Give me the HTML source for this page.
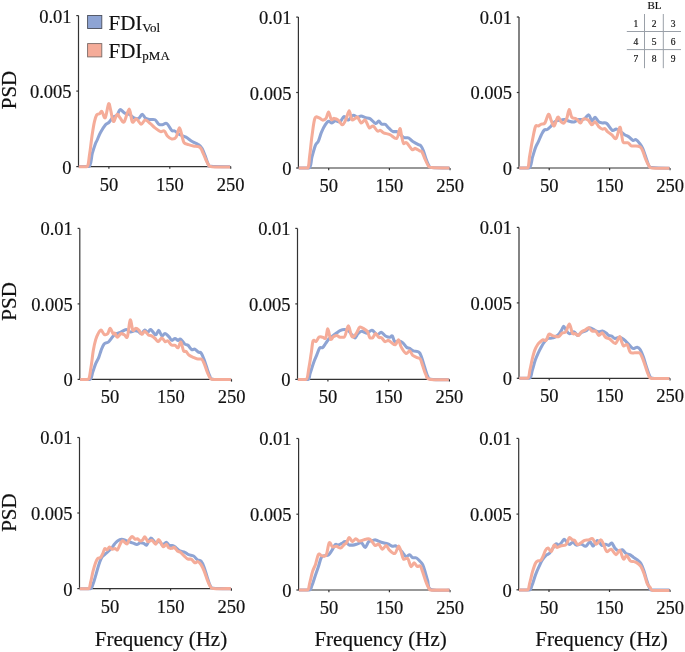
<!DOCTYPE html>
<html><head><meta charset="utf-8"><style>
html,body{margin:0;padding:0;background:#fff;}
svg{display:block;will-change:transform;}
text{font-family:"Liberation Serif",serif;fill:#111;stroke:#111;stroke-width:0.18px;}
</style></head><body>
<svg width="685" height="652" viewBox="0 0 685 652">
<rect width="685" height="652" fill="#fff"/>

<path d="M78.5,15.6V166.6H230.7" fill="none" stroke="#333" stroke-width="1.2"/>
<path d="M76.3,15.6H78.5" stroke="#333" stroke-width="1.2"/>
<path d="M76.3,91.1H78.5" stroke="#333" stroke-width="1.2"/>
<path d="M76.3,166.6H78.5" stroke="#333" stroke-width="1.2"/>
<path d="M108.9,166.6V168.8" stroke="#333" stroke-width="1.2"/>
<path d="M169.8,166.6V168.8" stroke="#333" stroke-width="1.2"/>
<path d="M230.7,166.6V168.8" stroke="#333" stroke-width="1.2"/>
<path d="M78.8,166.5C80.5,166.5 86.8,166.5 89.0,166.5C91.2,166.5 91.2,157.2 92.3,153.4C93.4,149.6 94.7,145.7 95.5,143.5C96.3,141.3 96.4,141.8 97.2,140.0C98.0,138.2 99.1,135.0 100.5,132.5C101.9,130.0 104.1,126.5 105.5,124.8C106.9,123.1 107.8,123.7 109.0,122.4C110.2,121.1 111.7,118.4 113.0,117.2C114.3,116.0 115.9,116.7 117.1,115.4C118.3,114.1 118.7,110.0 120.0,109.6C121.3,109.2 123.1,112.3 124.7,113.1C126.3,113.9 127.9,113.5 129.4,114.3C131.0,115.1 132.4,117.1 134.0,117.8C135.6,118.5 137.3,119.0 138.7,118.4C140.1,117.8 141.0,114.3 142.2,114.3C143.4,114.3 144.3,117.5 145.7,118.4C147.1,119.3 148.8,119.3 150.4,119.5C152.0,119.7 153.6,119.0 155.0,119.8C156.4,120.6 157.5,123.4 158.7,124.2C159.9,125.0 161.1,124.9 162.4,124.8C163.8,124.7 165.2,122.6 166.8,123.5C168.4,124.4 170.4,129.2 171.7,130.4C173.0,131.7 173.5,130.3 174.8,131.0C176.2,131.7 177.9,133.7 179.8,134.7C181.7,135.7 183.9,136.1 186.0,137.2C188.1,138.3 190.1,140.3 192.2,141.5C194.3,142.7 196.8,143.4 198.4,144.6C200.1,145.8 201.0,146.5 202.1,148.4C203.2,150.3 204.2,153.1 205.2,155.8C206.2,158.5 207.4,162.8 208.3,164.5C209.2,166.2 207.2,165.9 210.8,166.3C214.4,166.7 226.9,166.7 230.1,166.7" fill="none" stroke="#8ea4d4" stroke-width="3.05" stroke-linejoin="round" stroke-linecap="butt"/>
<path d="M78.8,166.7C80.1,166.7 85.0,166.7 86.8,166.7C88.6,166.7 88.8,158.5 89.7,153.4C90.6,148.3 91.2,141.2 92.0,135.9C92.8,130.7 93.6,125.4 94.4,121.9C95.2,118.4 95.8,116.3 96.7,114.9C97.6,113.5 98.7,114.3 99.6,113.7C100.5,113.1 101.0,110.7 101.9,111.4C102.8,112.1 104.1,119.1 105.2,117.8C106.3,116.5 107.7,105.1 108.6,103.8C109.5,102.5 109.9,107.2 110.7,110.2C111.5,113.2 112.3,120.8 113.4,121.5C114.5,122.2 116.0,114.9 117.1,114.3C118.2,113.7 118.8,116.5 120.0,117.8C121.2,119.1 122.6,123.4 124.1,121.9C125.6,120.4 127.8,109.0 129.2,109.0C130.6,109.0 131.1,120.2 132.3,121.9C133.5,123.6 134.9,118.5 136.4,118.9C137.9,119.3 139.6,124.0 141.1,124.2C142.6,124.4 143.6,120.2 145.2,120.1C146.8,120.0 148.8,122.3 150.4,123.6C152.0,124.9 153.3,126.6 155.0,127.9C156.7,129.2 158.9,131.1 160.5,131.6C162.1,132.1 163.2,130.3 164.3,131.0C165.5,131.7 166.2,134.7 167.4,136.0C168.6,137.3 170.2,138.8 171.7,139.0C173.1,139.2 174.8,139.0 176.1,137.2C177.4,135.3 178.5,127.9 179.5,127.9C180.5,127.9 181.5,134.7 182.3,137.2C183.1,139.7 183.1,141.6 184.1,142.8C185.1,144.0 186.9,144.1 188.5,144.6C190.1,145.1 191.6,145.5 193.4,145.9C195.2,146.3 198.2,146.3 199.6,147.1C201.0,147.9 201.1,148.7 202.1,150.8C203.1,152.9 204.7,157.1 205.8,159.5C206.9,161.9 207.9,164.3 208.9,165.5C209.9,166.7 208.5,166.4 212.0,166.7C215.5,166.9 227.1,167.0 230.1,167.0" fill="none" stroke="#f5ac99" stroke-width="3.05" stroke-linejoin="round" stroke-linecap="butt"/>
<text x="71.5" y="22.5" font-size="18.5" text-anchor="end">0.01</text>
<text x="71.5" y="98.0" font-size="18.5" text-anchor="end">0.005</text>
<text x="71.5" y="173.5" font-size="18.5" text-anchor="end">0</text>
<text x="108.9" y="190.6" font-size="18.5" text-anchor="middle">50</text>
<text x="169.8" y="190.6" font-size="18.5" text-anchor="middle">150</text>
<text x="230.7" y="190.6" font-size="18.5" text-anchor="middle">250</text>
<path d="M298.4,17.1V168.0H450.0" fill="none" stroke="#333" stroke-width="1.2"/>
<path d="M296.2,17.1H298.4" stroke="#333" stroke-width="1.2"/>
<path d="M296.2,92.5H298.4" stroke="#333" stroke-width="1.2"/>
<path d="M296.2,168.0H298.4" stroke="#333" stroke-width="1.2"/>
<path d="M328.7,168.0V170.2" stroke="#333" stroke-width="1.2"/>
<path d="M389.4,168.0V170.2" stroke="#333" stroke-width="1.2"/>
<path d="M450.0,168.0V170.2" stroke="#333" stroke-width="1.2"/>
<path d="M298.7,168.0C300.4,168.0 306.9,168.0 309.1,168.0C311.3,168.0 310.9,160.7 312.0,156.9C313.1,153.1 314.4,147.8 315.5,145.2C316.6,142.6 317.4,143.2 318.4,141.1C319.4,139.0 320.3,135.0 321.4,132.4C322.5,129.8 323.7,127.2 324.9,125.4C326.1,123.6 327.2,121.7 328.4,121.3C329.6,120.9 330.7,123.1 331.9,123.0C333.1,122.9 334.0,120.9 335.4,120.7C336.8,120.5 338.6,122.6 340.0,121.9C341.4,121.2 342.7,116.9 344.1,116.6C345.5,116.3 346.7,120.3 348.2,120.1C349.7,119.9 351.3,115.9 352.9,115.4C354.5,114.9 356.2,117.1 357.6,117.2C359.0,117.3 359.8,115.9 361.1,116.0C362.5,116.1 364.2,117.4 365.7,117.8C367.2,118.2 368.4,117.6 370.0,118.6C371.6,119.5 374.2,123.1 375.6,123.5C377.1,123.9 377.7,121.0 378.7,121.1C379.7,121.2 380.8,124.2 381.8,124.2C382.8,124.2 383.8,124.2 384.9,124.2C386.0,124.2 387.2,126.7 388.6,127.9C390.0,129.1 391.6,131.6 393.0,131.6C394.4,131.6 395.6,131.6 396.7,131.6C397.8,131.6 398.5,133.1 399.8,134.1C401.1,135.1 403.4,137.8 404.7,137.8C406.0,137.8 406.4,137.8 407.8,137.8C409.2,137.8 411.0,140.4 412.8,141.5C414.6,142.6 417.0,143.9 418.4,144.6C419.8,145.3 420.1,144.9 420.9,145.9C421.7,146.9 422.6,148.7 423.4,150.8C424.2,152.9 424.9,155.8 425.8,158.3C426.7,160.8 427.9,164.1 428.9,165.7C429.9,167.2 428.6,167.2 432.0,167.6C435.4,168.0 446.5,168.0 449.4,168.0" fill="none" stroke="#8ea4d4" stroke-width="3.05" stroke-linejoin="round" stroke-linecap="butt"/>
<path d="M298.7,168.0C300.1,168.0 305.5,168.0 307.3,168.0C309.1,168.0 308.9,161.0 309.7,155.7C310.5,150.3 311.1,142.1 312.0,135.9C312.9,129.7 313.7,121.4 314.9,118.4C316.1,115.4 317.7,117.5 319.0,117.8C320.3,118.1 321.3,120.0 322.5,120.1C323.7,120.2 325.0,119.8 326.0,118.4C327.0,117.0 327.7,111.7 328.6,111.9C329.5,112.1 330.4,118.4 331.3,119.5C332.2,120.6 333.0,118.3 334.2,118.4C335.4,118.5 336.9,119.0 338.3,120.1C339.7,121.2 341.1,124.9 342.4,124.8C343.7,124.7 344.8,121.8 345.9,119.5C347.0,117.2 348.2,110.8 349.2,110.8C350.2,110.8 350.7,118.2 351.7,119.5C352.7,120.8 354.2,118.8 355.2,118.4C356.2,118.0 356.6,116.4 357.6,117.2C358.6,118.0 359.8,122.5 361.1,123.0C362.4,123.5 363.9,119.3 365.2,120.1C366.5,120.9 367.9,126.7 369.2,127.7C370.5,128.7 371.7,125.5 373.1,126.0C374.5,126.5 376.2,130.3 377.4,131.0C378.6,131.7 379.5,130.1 380.5,130.4C381.5,130.7 382.0,132.1 383.6,132.8C385.2,133.5 387.7,133.8 389.9,134.7C392.1,135.6 395.0,139.4 396.7,138.4C398.4,137.4 399.0,128.9 399.8,128.5C400.6,128.1 401.0,133.5 401.6,136.0C402.2,138.5 402.7,142.3 403.5,143.4C404.3,144.5 405.2,141.8 406.6,142.8C408.1,143.8 410.8,148.7 412.2,149.6C413.6,150.5 414.1,148.2 415.3,148.4C416.5,148.6 418.5,150.2 419.6,150.8C420.7,151.4 421.2,150.7 422.1,152.1C423.0,153.5 424.2,157.2 425.2,159.5C426.2,161.8 427.3,164.3 428.3,165.7C429.3,167.0 427.9,167.2 431.4,167.6C434.9,168.0 446.4,168.0 449.4,168.0" fill="none" stroke="#f5ac99" stroke-width="3.05" stroke-linejoin="round" stroke-linecap="butt"/>
<text x="291.4" y="24.0" font-size="18.5" text-anchor="end">0.01</text>
<text x="291.4" y="99.5" font-size="18.5" text-anchor="end">0.005</text>
<text x="291.4" y="174.9" font-size="18.5" text-anchor="end">0</text>
<text x="328.7" y="192.0" font-size="18.5" text-anchor="middle">50</text>
<text x="389.4" y="192.0" font-size="18.5" text-anchor="middle">150</text>
<text x="450.0" y="192.0" font-size="18.5" text-anchor="middle">250</text>
<path d="M519.0,17.0V168.0H670.0" fill="none" stroke="#333" stroke-width="1.2"/>
<path d="M516.8,17.0H519.0" stroke="#333" stroke-width="1.2"/>
<path d="M516.8,92.5H519.0" stroke="#333" stroke-width="1.2"/>
<path d="M516.8,168.0H519.0" stroke="#333" stroke-width="1.2"/>
<path d="M549.2,168.0V170.2" stroke="#333" stroke-width="1.2"/>
<path d="M609.6,168.0V170.2" stroke="#333" stroke-width="1.2"/>
<path d="M670.0,168.0V170.2" stroke="#333" stroke-width="1.2"/>
<path d="M519.3,168.0C520.9,168.0 526.9,168.0 529.1,168.0C531.3,168.0 531.5,160.3 532.6,156.9C533.7,153.5 534.5,150.1 535.5,147.6C536.5,145.1 537.4,143.8 538.4,141.7C539.4,139.5 540.4,136.6 541.4,134.7C542.4,132.8 543.3,130.9 544.3,130.0C545.3,129.1 546.1,130.1 547.2,129.5C548.3,128.9 549.3,127.9 550.7,126.5C552.1,125.1 553.6,122.4 555.4,121.3C557.1,120.2 559.7,120.4 561.2,120.1C562.8,119.8 563.3,119.3 564.7,119.5C566.1,119.7 567.8,120.9 569.4,121.3C571.0,121.7 572.5,122.2 574.1,121.9C575.7,121.6 577.2,119.5 578.7,119.5C580.2,119.5 581.7,119.5 583.4,119.5C585.1,119.5 587.3,114.6 588.7,114.9C590.1,115.2 590.9,120.7 591.9,121.1C592.9,121.5 593.9,117.2 595.0,117.3C596.1,117.4 597.5,120.8 598.7,121.7C599.9,122.6 601.0,122.6 602.4,122.9C603.8,123.2 605.1,122.2 606.8,123.5C608.4,124.8 610.8,129.5 612.3,130.4C613.8,131.3 614.9,129.0 616.1,129.1C617.4,129.2 618.4,130.1 619.8,131.0C621.2,131.9 623.2,133.8 624.7,134.7C626.2,135.6 627.1,135.7 628.5,136.6C629.9,137.5 631.6,139.8 632.8,140.3C634.0,140.8 634.8,139.2 635.9,139.7C637.0,140.2 638.5,141.9 639.6,143.4C640.7,144.9 641.7,146.1 642.7,148.4C643.7,150.7 644.8,154.1 645.8,157.0C646.8,159.9 647.9,163.9 648.9,165.7C649.9,167.5 648.6,167.2 652.0,167.6C655.4,168.0 666.5,168.2 669.4,168.2" fill="none" stroke="#8ea4d4" stroke-width="3.05" stroke-linejoin="round" stroke-linecap="butt"/>
<path d="M519.3,168.0C520.6,168.0 525.6,168.0 527.3,168.0C529.0,168.0 528.8,160.5 529.7,155.7C530.6,150.9 531.6,144.3 532.6,139.4C533.6,134.5 534.5,128.7 535.5,126.5C536.5,124.3 537.4,126.4 538.4,126.0C539.4,125.6 540.3,124.7 541.4,124.2C542.5,123.7 543.7,124.7 544.9,123.0C546.1,121.3 547.5,114.7 548.6,114.3C549.7,113.9 550.4,118.8 551.3,120.7C552.2,122.7 553.1,126.6 554.2,126.0C555.3,125.4 556.5,117.9 557.7,117.2C558.9,116.5 560.1,120.9 561.2,121.9C562.3,122.9 563.2,123.6 564.1,123.0C565.0,122.4 565.9,120.6 566.8,118.4C567.6,116.2 568.4,109.8 569.2,109.6C570.0,109.4 570.7,115.7 571.7,117.2C572.7,118.7 574.2,117.9 575.2,118.4C576.2,118.9 576.7,119.3 577.6,120.1C578.5,120.9 579.5,123.2 580.5,123.0C581.5,122.8 582.1,119.4 583.4,118.9C584.7,118.4 586.7,119.1 588.1,120.1C589.5,121.1 590.8,124.5 591.9,124.8C593.0,125.1 593.9,121.4 595.0,121.7C596.1,122.0 597.5,125.4 598.7,126.6C599.9,127.8 601.4,128.8 602.4,129.1C603.4,129.4 604.1,128.1 604.9,128.5C605.7,128.9 606.3,130.6 607.4,131.6C608.5,132.6 610.2,133.6 611.7,134.7C613.2,135.8 614.8,139.6 616.1,138.4C617.5,137.2 618.9,127.9 619.8,127.3C620.7,126.7 621.0,132.1 621.6,134.7C622.2,137.3 622.5,142.8 623.5,142.8C624.5,142.8 626.4,142.8 627.8,142.8C629.1,142.8 630.2,145.9 631.6,145.9C633.0,145.9 634.5,145.9 635.9,145.9C637.3,145.9 639.2,146.3 640.3,147.1C641.4,147.9 641.8,148.7 642.7,150.8C643.6,152.9 644.8,157.0 645.8,159.5C646.8,162.0 647.9,164.3 648.9,165.7C649.9,167.1 648.6,167.6 652.0,168.0C655.4,168.4 666.5,168.2 669.4,168.2" fill="none" stroke="#f5ac99" stroke-width="3.05" stroke-linejoin="round" stroke-linecap="butt"/>
<text x="512.0" y="23.9" font-size="18.5" text-anchor="end">0.01</text>
<text x="512.0" y="99.4" font-size="18.5" text-anchor="end">0.005</text>
<text x="512.0" y="174.9" font-size="18.5" text-anchor="end">0</text>
<text x="549.2" y="192.0" font-size="18.5" text-anchor="middle">50</text>
<text x="609.6" y="192.0" font-size="18.5" text-anchor="middle">150</text>
<text x="670.0" y="192.0" font-size="18.5" text-anchor="middle">250</text>
<path d="M79.8,228.4V379.4H231.5" fill="none" stroke="#333" stroke-width="1.2"/>
<path d="M77.6,228.4H79.8" stroke="#333" stroke-width="1.2"/>
<path d="M77.6,303.9H79.8" stroke="#333" stroke-width="1.2"/>
<path d="M77.6,379.4H79.8" stroke="#333" stroke-width="1.2"/>
<path d="M110.1,379.4V381.6" stroke="#333" stroke-width="1.2"/>
<path d="M170.8,379.4V381.6" stroke="#333" stroke-width="1.2"/>
<path d="M231.5,379.4V381.6" stroke="#333" stroke-width="1.2"/>
<path d="M80.1,379.4C81.7,379.4 87.7,379.4 89.8,379.4C91.9,379.4 91.8,374.6 92.8,372.0C93.8,369.4 94.7,366.0 95.7,363.6C96.7,361.2 97.8,359.8 98.7,357.6C99.6,355.4 100.2,352.7 101.1,350.4C102.0,348.1 102.9,345.3 104.1,343.9C105.3,342.5 107.1,343.0 108.3,342.1C109.5,341.2 110.2,339.8 111.3,338.5C112.4,337.2 113.4,335.3 114.9,334.3C116.4,333.3 118.4,333.3 120.3,332.5C122.2,331.7 124.5,329.6 126.2,329.5C127.9,329.4 129.0,331.7 130.4,331.9C131.8,332.1 133.3,330.8 134.6,330.7C135.9,330.6 137.1,330.8 138.2,331.3C139.3,331.8 140.1,333.9 141.2,333.7C142.3,333.5 143.7,330.3 144.8,330.1C145.9,329.9 146.8,332.6 147.8,332.5C148.8,332.4 149.4,329.1 150.7,329.5C152.0,329.9 154.3,334.7 155.7,334.8C157.0,334.9 157.8,330.2 158.8,330.4C159.8,330.6 160.9,335.5 161.9,336.0C162.9,336.5 163.8,333.4 165.0,333.5C166.2,333.6 167.7,335.5 168.8,336.6C170.0,337.8 170.9,340.1 171.9,340.4C172.9,340.7 174.0,338.5 175.0,338.5C176.0,338.5 177.2,340.3 178.1,340.4C179.0,340.5 179.4,338.5 180.5,339.1C181.6,339.7 183.7,343.1 184.9,344.1C186.2,345.1 186.9,344.4 188.0,345.3C189.1,346.2 190.6,349.1 191.7,349.7C192.8,350.3 193.7,348.7 194.8,349.1C195.9,349.5 197.5,351.6 198.5,352.2C199.5,352.8 200.1,351.6 201.0,352.8C201.9,354.0 203.2,357.2 204.1,359.6C205.0,362.0 205.7,364.3 206.6,367.0C207.5,369.7 208.7,373.7 209.7,375.7C210.7,377.7 209.3,378.6 212.8,379.2C216.3,379.8 227.9,379.4 230.9,379.4" fill="none" stroke="#8ea4d4" stroke-width="3.05" stroke-linejoin="round" stroke-linecap="butt"/>
<path d="M80.1,379.4C81.4,379.4 86.2,379.4 88.0,379.4C89.8,379.4 90.1,372.0 91.0,367.2C91.9,362.4 92.5,355.0 93.3,350.4C94.1,345.8 94.9,342.5 95.7,339.7C96.5,336.9 97.2,335.3 98.1,333.7C99.0,332.1 100.1,330.0 101.1,330.1C102.1,330.2 103.0,333.7 104.1,334.3C105.2,334.9 106.7,334.7 107.7,333.7C108.7,332.7 109.2,328.3 110.1,328.3C111.0,328.3 112.3,332.9 113.1,333.7C113.9,334.5 114.2,332.5 114.9,333.1C115.6,333.7 116.3,337.2 117.3,337.3C118.3,337.4 119.7,334.1 120.9,333.7C122.1,333.3 123.3,334.4 124.4,334.9C125.5,335.4 126.4,339.2 127.4,336.7C128.4,334.2 129.3,321.1 130.2,320.0C131.1,318.9 131.9,328.7 132.8,330.1C133.7,331.5 134.8,328.3 135.8,328.3C136.8,328.3 137.8,329.1 138.8,330.1C139.8,331.1 140.8,334.1 141.8,334.3C142.8,334.5 143.7,331.2 144.8,331.3C145.9,331.4 147.2,334.1 148.4,334.9C149.6,335.7 150.9,335.5 152.0,336.1C153.1,336.7 154.1,337.6 155.1,338.5C156.1,339.4 157.1,341.7 158.2,341.6C159.3,341.5 160.8,337.9 161.9,337.9C163.0,337.9 164.0,341.1 165.0,341.6C166.0,342.1 166.9,340.4 168.1,341.0C169.2,341.6 170.8,345.3 171.9,345.3C173.1,345.3 174.0,345.3 175.0,345.3C176.0,345.3 177.1,348.3 178.1,347.8C179.1,347.3 179.9,341.7 180.8,342.2C181.7,342.7 182.7,349.3 183.6,350.9C184.5,352.4 185.2,350.8 186.1,351.5C187.0,352.2 187.8,354.3 189.2,355.3C190.5,356.3 192.8,357.1 194.2,357.7C195.6,358.3 196.8,359.0 197.9,359.0C199.0,359.0 200.0,359.0 201.0,359.0C202.0,359.0 203.1,361.1 204.1,363.3C205.1,365.5 206.2,369.5 207.2,372.0C208.2,374.5 209.2,377.0 210.3,378.2C211.4,379.4 210.6,379.4 214.0,379.4C217.4,379.4 228.1,379.4 230.9,379.4" fill="none" stroke="#f5ac99" stroke-width="3.05" stroke-linejoin="round" stroke-linecap="butt"/>
<text x="72.8" y="235.3" font-size="18.5" text-anchor="end">0.01</text>
<text x="72.8" y="310.8" font-size="18.5" text-anchor="end">0.005</text>
<text x="72.8" y="386.3" font-size="18.5" text-anchor="end">0</text>
<text x="110.1" y="403.4" font-size="18.5" text-anchor="middle">50</text>
<text x="170.8" y="403.4" font-size="18.5" text-anchor="middle">150</text>
<text x="231.5" y="403.4" font-size="18.5" text-anchor="middle">250</text>
<path d="M297.5,228.4V379.4H449.4" fill="none" stroke="#333" stroke-width="1.2"/>
<path d="M295.3,228.4H297.5" stroke="#333" stroke-width="1.2"/>
<path d="M295.3,303.9H297.5" stroke="#333" stroke-width="1.2"/>
<path d="M295.3,379.4H297.5" stroke="#333" stroke-width="1.2"/>
<path d="M327.9,379.4V381.6" stroke="#333" stroke-width="1.2"/>
<path d="M388.6,379.4V381.6" stroke="#333" stroke-width="1.2"/>
<path d="M449.4,379.4V381.6" stroke="#333" stroke-width="1.2"/>
<path d="M297.8,379.4C299.5,379.4 305.7,379.4 307.8,379.4C309.9,379.4 309.2,376.0 310.2,373.2C311.2,370.4 312.6,365.4 313.7,362.4C314.8,359.4 315.7,357.6 316.7,355.2C317.7,352.8 318.7,349.3 319.7,348.0C320.7,346.7 321.7,348.3 322.7,347.5C323.7,346.7 324.7,344.7 325.7,343.3C326.7,341.9 327.7,340.2 328.7,339.1C329.7,338.0 330.4,337.7 331.7,336.7C333.0,335.7 335.1,334.1 336.5,333.1C337.9,332.1 338.7,331.3 340.0,330.7C341.3,330.1 342.8,329.5 344.2,329.5C345.6,329.5 347.1,329.8 348.4,330.7C349.7,331.6 350.9,333.7 352.0,334.9C353.1,336.1 354.0,338.1 355.0,337.9C356.0,337.7 356.9,334.8 358.0,333.7C359.1,332.6 360.2,331.4 361.6,331.3C363.0,331.2 365.0,333.1 366.4,333.1C367.8,333.1 369.0,331.6 370.0,331.1C371.0,330.7 371.3,329.8 372.5,330.4C373.7,331.0 375.9,334.5 377.4,334.8C378.8,335.1 379.8,332.1 381.2,332.3C382.6,332.5 384.1,335.2 385.5,336.0C386.9,336.8 388.8,337.3 389.9,337.3C391.0,337.3 391.5,335.3 392.3,336.0C393.1,336.7 393.7,340.8 394.8,341.6C395.9,342.4 397.9,340.8 399.2,341.0C400.5,341.2 401.7,341.8 402.9,342.8C404.1,343.8 405.5,346.3 406.6,347.2C407.7,348.1 408.6,347.8 409.7,348.4C410.8,349.0 411.8,350.3 413.4,350.9C414.9,351.5 417.6,351.2 419.0,352.2C420.4,353.2 420.6,354.6 421.5,357.1C422.4,359.6 423.6,363.8 424.6,367.0C425.6,370.2 426.7,374.3 427.7,376.3C428.7,378.3 427.3,378.6 430.8,379.2C434.3,379.8 445.8,379.7 448.8,379.7" fill="none" stroke="#8ea4d4" stroke-width="3.05" stroke-linejoin="round" stroke-linecap="butt"/>
<path d="M297.8,379.4C299.2,379.4 304.1,379.4 306.0,379.4C307.9,379.4 308.1,371.6 309.0,367.2C309.9,362.8 310.6,357.2 311.3,352.8C312.0,348.4 312.3,342.8 313.1,340.9C313.9,339.0 315.1,342.1 316.1,341.5C317.1,340.9 318.0,337.7 319.1,337.0C320.2,336.3 321.6,337.2 322.7,337.3C323.8,337.4 324.8,339.3 325.7,337.9C326.6,336.5 327.1,328.7 327.9,328.9C328.7,329.1 329.6,337.8 330.5,339.1C331.4,340.4 332.4,337.3 333.5,336.7C334.6,336.1 336.0,335.4 337.1,335.5C338.2,335.6 338.8,337.3 340.0,337.3C341.2,337.3 342.8,337.3 344.2,337.3C345.6,337.3 347.0,326.2 348.2,325.9C349.4,325.6 350.5,333.7 351.4,335.5C352.3,337.3 352.9,337.2 353.8,336.7C354.7,336.2 355.8,334.1 356.8,332.5C357.8,330.9 358.6,327.7 359.8,327.1C361.0,326.5 362.7,328.1 364.0,328.9C365.3,329.7 366.6,330.4 367.6,331.9C368.6,333.4 369.2,337.9 370.0,337.9C370.8,337.9 371.6,337.9 372.5,337.9C373.4,337.9 374.6,333.6 375.6,333.5C376.6,333.4 377.7,336.6 378.7,337.3C379.7,338.0 380.8,337.2 381.8,337.9C382.8,338.6 383.8,341.2 384.9,341.6C386.0,342.0 387.5,340.2 388.6,340.4C389.7,340.6 390.6,342.1 391.7,342.8C392.8,343.5 394.3,345.2 395.4,344.7C396.5,344.2 397.6,339.4 398.5,339.7C399.4,340.0 399.8,344.3 401.0,346.6C402.2,348.9 404.6,352.7 406.0,353.4C407.4,354.1 408.6,350.6 409.7,350.9C410.8,351.2 411.6,354.2 412.8,355.3C414.1,356.4 415.9,357.1 417.2,357.7C418.4,358.3 419.4,357.6 420.3,359.0C421.2,360.4 421.8,363.2 422.7,365.8C423.6,368.4 424.6,372.3 425.8,374.5C427.0,376.7 425.8,378.3 429.6,379.2C433.4,380.1 445.6,379.7 448.8,379.7" fill="none" stroke="#f5ac99" stroke-width="3.05" stroke-linejoin="round" stroke-linecap="butt"/>
<text x="290.5" y="235.3" font-size="18.5" text-anchor="end">0.01</text>
<text x="290.5" y="310.8" font-size="18.5" text-anchor="end">0.005</text>
<text x="290.5" y="386.3" font-size="18.5" text-anchor="end">0</text>
<text x="327.9" y="403.4" font-size="18.5" text-anchor="middle">50</text>
<text x="388.6" y="403.4" font-size="18.5" text-anchor="middle">150</text>
<text x="449.4" y="403.4" font-size="18.5" text-anchor="middle">250</text>
<path d="M519.0,227.4V378.3H670.0" fill="none" stroke="#333" stroke-width="1.2"/>
<path d="M516.8,227.4H519.0" stroke="#333" stroke-width="1.2"/>
<path d="M516.8,302.9H519.0" stroke="#333" stroke-width="1.2"/>
<path d="M516.8,378.3H519.0" stroke="#333" stroke-width="1.2"/>
<path d="M549.2,378.3V380.5" stroke="#333" stroke-width="1.2"/>
<path d="M609.6,378.3V380.5" stroke="#333" stroke-width="1.2"/>
<path d="M670.0,378.3V380.5" stroke="#333" stroke-width="1.2"/>
<path d="M519.3,378.2C521.0,378.2 527.2,378.2 529.4,378.2C531.6,378.2 531.3,373.2 532.3,370.2C533.3,367.2 534.3,362.9 535.3,360.0C536.3,357.1 537.3,355.0 538.3,352.8C539.3,350.6 540.3,348.7 541.3,346.9C542.3,345.1 543.2,343.5 544.3,342.1C545.4,340.7 546.8,339.1 547.9,338.5C549.0,337.9 549.8,338.4 550.9,338.2C552.0,338.0 553.2,337.9 554.5,337.3C555.8,336.7 557.5,335.5 558.7,334.3C559.9,333.1 560.8,331.4 561.6,330.1C562.4,328.8 562.9,326.2 563.7,326.3C564.5,326.4 565.5,329.5 566.4,330.7C567.3,331.9 568.1,333.5 569.4,333.7C570.7,333.9 572.8,331.6 574.2,331.9C575.6,332.2 576.6,335.4 577.8,335.5C579.0,335.6 580.0,333.3 581.4,332.5C582.8,331.7 584.8,331.5 586.2,330.7C587.6,329.9 588.2,327.8 589.7,327.7C591.2,327.6 593.5,329.7 595.0,330.4C596.5,331.1 597.5,331.6 598.7,331.7C599.9,331.8 601.2,330.9 602.4,331.1C603.6,331.3 605.1,332.2 606.1,332.9C607.1,333.6 607.7,334.9 608.6,335.4C609.5,335.9 610.7,335.5 611.7,336.0C612.7,336.5 613.4,338.3 614.8,338.5C616.1,338.7 618.2,337.1 619.8,337.3C621.3,337.5 622.6,338.6 624.1,339.7C625.6,340.8 627.0,342.7 628.5,344.1C630.0,345.6 631.3,347.9 632.8,348.4C634.2,348.9 636.0,347.0 637.2,347.2C638.5,347.4 639.3,348.0 640.3,349.7C641.3,351.4 642.4,354.2 643.4,357.1C644.4,360.0 645.5,363.9 646.5,367.0C647.5,370.1 648.6,373.8 649.6,375.7C650.6,377.6 649.4,377.7 652.7,378.2C656.0,378.7 666.6,378.5 669.4,378.5" fill="none" stroke="#8ea4d4" stroke-width="3.05" stroke-linejoin="round" stroke-linecap="butt"/>
<path d="M519.3,378.2C520.7,378.2 525.8,378.2 527.6,378.2C529.4,378.2 529.2,372.8 530.0,369.6C530.8,366.4 531.5,362.0 532.3,358.8C533.1,355.6 533.8,352.8 534.7,350.4C535.6,348.0 536.7,346.0 537.7,344.5C538.7,343.0 539.8,342.3 540.7,341.5C541.6,340.7 542.2,339.9 543.1,339.7C544.0,339.5 545.1,341.2 546.1,340.3C547.1,339.4 547.9,335.1 548.9,334.3C549.9,333.5 551.1,335.2 552.1,335.5C553.1,335.8 554.0,336.1 555.1,336.3C556.2,336.5 557.5,337.2 558.7,336.7C559.9,336.2 561.0,333.9 562.2,333.1C563.4,332.3 564.6,333.4 565.8,331.9C567.0,330.4 568.3,323.9 569.4,324.1C570.5,324.3 571.4,331.5 572.4,333.1C573.4,334.7 574.4,333.3 575.4,333.7C576.4,334.1 577.4,335.8 578.4,335.5C579.4,335.2 580.3,332.8 581.4,331.9C582.5,331.0 583.8,330.8 585.0,330.1C586.2,329.4 587.4,327.5 588.6,327.7C589.9,327.9 591.3,331.1 592.5,331.1C593.7,331.1 594.6,331.1 595.6,331.1C596.6,331.1 597.6,335.1 598.7,335.4C599.8,335.7 601.3,332.6 602.4,332.9C603.5,333.2 604.2,336.3 605.5,337.3C606.8,338.3 608.2,338.1 609.9,339.1C611.5,340.1 613.8,343.9 615.4,343.5C617.0,343.1 618.5,336.9 619.5,336.6C620.5,336.3 620.9,340.0 621.6,341.6C622.3,343.2 622.6,345.5 623.5,346.0C624.4,346.5 626.1,343.7 627.2,344.7C628.3,345.7 629.0,350.8 630.3,352.2C631.5,353.6 633.2,352.8 634.7,352.8C636.2,352.8 637.8,352.8 639.0,352.8C640.2,352.8 641.1,354.9 642.1,357.1C643.1,359.3 644.2,362.9 645.2,365.8C646.2,368.7 647.2,372.4 648.3,374.5C649.4,376.6 648.5,378.5 652.0,378.5C655.5,378.5 666.5,378.5 669.4,378.5" fill="none" stroke="#f5ac99" stroke-width="3.05" stroke-linejoin="round" stroke-linecap="butt"/>
<text x="512.0" y="234.3" font-size="18.5" text-anchor="end">0.01</text>
<text x="512.0" y="309.8" font-size="18.5" text-anchor="end">0.005</text>
<text x="512.0" y="385.2" font-size="18.5" text-anchor="end">0</text>
<text x="549.2" y="402.3" font-size="18.5" text-anchor="middle">50</text>
<text x="609.6" y="402.3" font-size="18.5" text-anchor="middle">150</text>
<text x="670.0" y="402.3" font-size="18.5" text-anchor="middle">250</text>
<path d="M79.5,437.5V588.6H231.4" fill="none" stroke="#333" stroke-width="1.2"/>
<path d="M77.3,437.5H79.5" stroke="#333" stroke-width="1.2"/>
<path d="M77.3,513.0H79.5" stroke="#333" stroke-width="1.2"/>
<path d="M77.3,588.6H79.5" stroke="#333" stroke-width="1.2"/>
<path d="M109.9,588.6V590.8" stroke="#333" stroke-width="1.2"/>
<path d="M170.6,588.6V590.8" stroke="#333" stroke-width="1.2"/>
<path d="M231.4,588.6V590.8" stroke="#333" stroke-width="1.2"/>
<path d="M79.8,588.7C81.5,588.7 87.9,588.7 90.1,588.7C92.3,588.7 92.0,586.5 93.0,584.2C94.0,581.9 94.9,578.2 95.9,574.9C96.9,571.6 97.9,567.3 98.9,564.4C99.9,561.5 100.8,559.0 101.8,557.4C102.8,555.8 103.6,555.5 104.7,554.5C105.8,553.5 107.0,552.6 108.2,551.5C109.4,550.4 110.6,549.3 111.7,548.0C112.8,546.7 113.6,545.1 114.6,543.9C115.6,542.7 116.3,541.8 117.5,541.0C118.7,540.2 120.2,539.4 121.6,539.3C123.0,539.2 124.2,539.9 125.7,540.4C127.2,540.9 129.0,541.7 130.4,542.2C131.8,542.7 132.8,543.0 133.9,543.4C135.0,543.8 135.7,544.6 136.8,544.5C137.9,544.4 139.1,543.0 140.3,542.8C141.5,542.6 142.7,543.0 143.8,543.4C144.9,543.8 145.5,546.0 146.7,545.1C147.9,544.2 149.3,538.5 150.8,538.1C152.3,537.8 154.3,542.5 155.7,543.0C157.1,543.5 158.3,540.8 159.4,541.1C160.5,541.4 161.3,544.6 162.5,544.8C163.7,545.0 165.2,542.2 166.3,542.3C167.5,542.4 168.4,545.4 169.4,545.4C170.4,545.4 171.4,545.4 172.5,545.4C173.6,545.4 175.0,547.0 176.2,547.9C177.4,548.8 178.4,550.3 179.9,551.0C181.4,551.7 183.5,551.7 184.9,552.3C186.3,552.9 187.2,554.1 188.6,554.7C190.0,555.3 192.1,555.2 193.6,556.0C195.1,556.8 196.1,558.9 197.3,559.7C198.5,560.5 199.9,559.8 201.0,561.0C202.1,562.2 203.1,564.5 204.1,567.2C205.1,569.9 206.2,574.0 207.2,577.1C208.2,580.2 209.3,583.9 210.3,585.8C211.3,587.6 210.0,587.7 213.4,588.2C216.8,588.7 227.9,588.6 230.8,588.6" fill="none" stroke="#8ea4d4" stroke-width="3.05" stroke-linejoin="round" stroke-linecap="butt"/>
<path d="M79.8,588.7C81.2,588.7 86.5,588.7 88.3,588.7C90.1,588.7 89.9,584.8 90.7,581.9C91.5,579.0 92.2,574.5 93.0,571.4C93.8,568.3 94.6,565.4 95.4,563.2C96.2,561.1 96.8,559.5 97.7,558.5C98.6,557.5 99.7,558.3 100.6,557.4C101.5,556.5 102.2,554.8 102.9,553.3C103.6,551.8 104.0,549.2 104.7,548.6C105.4,548.0 106.2,550.0 107.0,549.8C107.8,549.5 108.7,547.2 109.6,547.1C110.5,547.0 111.4,549.0 112.3,549.2C113.2,549.5 114.3,548.5 115.2,548.6C116.1,548.7 116.6,550.7 117.5,549.8C118.4,548.9 119.6,544.9 120.5,543.4C121.4,541.9 121.7,540.7 122.8,540.8C123.9,540.9 125.8,544.0 126.9,543.9C128.0,543.8 128.3,541.1 129.2,539.9C130.1,538.7 131.1,536.7 132.1,536.6C133.1,536.5 134.2,538.9 135.1,539.3C136.0,539.6 136.5,538.4 137.4,538.7C138.3,539.0 139.4,540.8 140.3,541.0C141.2,541.2 141.8,540.6 142.6,539.9C143.4,539.2 144.1,536.6 145.0,536.9C145.9,537.2 146.7,541.0 147.9,541.6C149.1,542.2 150.7,540.0 152.0,540.4C153.3,540.8 154.6,544.3 155.7,544.2C156.8,544.1 157.6,539.2 158.8,539.6C160.1,540.0 161.9,545.9 163.2,546.7C164.4,547.5 165.4,544.0 166.3,544.2C167.2,544.4 167.9,547.2 168.8,547.9C169.7,548.6 171.0,548.4 171.9,548.3C172.8,548.2 173.4,546.8 174.3,547.3C175.2,547.8 176.4,550.2 177.4,551.0C178.4,551.8 179.5,551.6 180.5,552.3C181.5,553.0 182.3,554.3 183.6,555.4C184.8,556.5 186.8,559.1 188.0,559.1C189.2,559.1 190.0,559.1 191.1,559.1C192.2,559.1 193.7,562.4 194.8,562.8C195.9,563.2 196.9,561.3 197.9,561.6C198.9,561.9 200.0,563.2 201.0,564.7C202.0,566.2 203.1,568.4 204.1,570.9C205.1,573.4 206.2,577.0 207.2,579.6C208.2,582.2 209.3,584.9 210.3,586.4C211.3,587.9 210.0,588.1 213.4,588.5C216.8,588.9 227.9,588.6 230.8,588.6" fill="none" stroke="#f5ac99" stroke-width="3.05" stroke-linejoin="round" stroke-linecap="butt"/>
<text x="72.5" y="444.4" font-size="18.5" text-anchor="end">0.01</text>
<text x="72.5" y="519.9" font-size="18.5" text-anchor="end">0.005</text>
<text x="72.5" y="595.5" font-size="18.5" text-anchor="end">0</text>
<text x="109.9" y="612.6" font-size="18.5" text-anchor="middle">50</text>
<text x="170.6" y="612.6" font-size="18.5" text-anchor="middle">150</text>
<text x="231.4" y="612.6" font-size="18.5" text-anchor="middle">250</text>
<path d="M298.6,438.5V590.0H450.0" fill="none" stroke="#333" stroke-width="1.2"/>
<path d="M296.4,438.5H298.6" stroke="#333" stroke-width="1.2"/>
<path d="M296.4,514.2H298.6" stroke="#333" stroke-width="1.2"/>
<path d="M296.4,590.0H298.6" stroke="#333" stroke-width="1.2"/>
<path d="M328.9,590.0V592.2" stroke="#333" stroke-width="1.2"/>
<path d="M389.4,590.0V592.2" stroke="#333" stroke-width="1.2"/>
<path d="M450.0,590.0V592.2" stroke="#333" stroke-width="1.2"/>
<path d="M298.9,590.0C300.6,590.0 306.9,590.0 309.1,590.0C311.3,590.0 310.9,587.9 312.0,585.4C313.1,582.9 314.4,578.0 315.5,574.9C316.6,571.8 317.4,569.6 318.4,566.7C319.4,563.8 320.3,559.2 321.4,557.4C322.5,555.5 323.7,556.0 324.9,555.6C326.1,555.2 327.2,555.9 328.4,555.0C329.6,554.1 330.7,552.1 331.9,550.4C333.1,548.6 334.3,545.4 335.4,544.5C336.5,543.6 337.2,545.3 338.3,545.1C339.4,544.9 340.6,544.0 341.8,543.4C343.0,542.8 344.0,541.3 345.3,541.6C346.6,541.9 348.1,545.1 349.4,545.1C350.7,545.1 351.5,545.1 352.9,545.1C354.3,545.1 356.2,544.3 357.6,543.9C359.1,543.5 360.3,542.2 361.6,542.8C362.9,543.4 364.0,547.6 365.2,547.4C366.4,547.2 367.4,542.8 368.7,541.6C369.9,540.5 371.5,540.8 372.7,540.5C373.9,540.2 374.4,539.7 375.6,539.9C376.8,540.1 378.4,541.2 379.9,541.7C381.3,542.2 382.9,542.6 384.3,543.0C385.8,543.4 387.3,543.7 388.6,544.2C389.9,544.8 391.2,546.0 392.3,546.3C393.4,546.6 394.2,545.4 395.4,545.8C396.5,546.2 397.9,547.3 399.2,548.5C400.4,549.7 401.8,551.5 402.9,552.9C404.0,554.2 404.9,556.3 406.0,556.6C407.1,556.9 408.6,554.5 409.7,554.7C410.8,554.9 411.8,557.8 412.8,557.8C413.8,557.8 414.8,557.8 415.9,557.8C417.0,557.8 418.5,559.8 419.6,560.9C420.7,562.0 421.8,562.8 422.7,564.7C423.6,566.6 424.4,569.4 425.2,572.1C426.0,574.8 426.8,577.9 427.7,580.8C428.6,583.7 427.2,588.0 430.8,589.5C434.4,591.0 446.3,590.1 449.4,590.1" fill="none" stroke="#8ea4d4" stroke-width="3.05" stroke-linejoin="round" stroke-linecap="butt"/>
<path d="M298.9,590.0C300.3,590.0 305.5,590.0 307.3,590.0C309.1,590.0 308.8,586.2 309.7,583.1C310.6,580.0 311.6,574.5 312.6,571.4C313.6,568.3 314.5,567.2 315.5,564.4C316.5,561.6 317.4,556.0 318.4,554.5C319.4,553.0 320.4,555.3 321.4,555.6C322.4,555.9 323.4,556.5 324.3,556.2C325.2,555.9 325.8,556.1 326.6,553.9C327.4,551.7 328.3,544.0 329.3,542.8C330.3,541.6 331.3,546.3 332.5,546.9C333.7,547.5 335.1,546.1 336.5,546.3C337.9,546.5 339.3,548.3 340.6,548.0C341.9,547.7 343.1,545.4 344.1,544.5C345.1,543.6 345.6,544.0 346.5,542.8C347.4,541.6 348.2,537.7 349.2,537.5C350.2,537.3 351.2,541.4 352.3,541.6C353.4,541.8 354.7,538.8 355.8,538.7C356.9,538.6 357.6,540.7 358.7,541.0C359.8,541.3 361.0,540.7 362.2,540.4C363.4,540.1 364.4,539.5 365.7,539.3C367.0,539.1 368.4,538.2 370.0,539.2C371.6,540.2 373.6,544.6 375.0,545.4C376.4,546.2 377.5,543.6 378.7,544.2C379.9,544.8 381.2,549.0 382.4,549.2C383.6,549.4 385.0,545.3 386.1,545.4C387.2,545.5 387.8,548.4 389.2,549.8C390.6,551.1 393.2,554.1 394.8,553.5C396.4,552.9 397.5,546.4 398.5,546.1C399.5,545.8 400.2,549.4 401.0,551.6C401.8,553.8 402.4,558.0 403.5,559.1C404.6,560.2 406.6,557.3 407.8,558.5C409.0,559.7 409.8,565.8 410.9,566.5C411.9,567.2 413.1,562.8 414.1,562.8C415.2,562.8 416.2,566.0 417.2,566.5C418.2,567.0 419.4,565.0 420.3,565.9C421.2,566.8 421.8,569.5 422.7,572.1C423.6,574.7 424.8,578.7 425.8,581.4C426.8,584.1 427.9,586.8 428.9,588.2C429.9,589.7 428.6,590.1 432.0,590.1C435.4,590.1 446.5,590.1 449.4,590.1" fill="none" stroke="#f5ac99" stroke-width="3.05" stroke-linejoin="round" stroke-linecap="butt"/>
<text x="291.6" y="445.4" font-size="18.5" text-anchor="end">0.01</text>
<text x="291.6" y="521.1" font-size="18.5" text-anchor="end">0.005</text>
<text x="291.6" y="596.9" font-size="18.5" text-anchor="end">0</text>
<text x="328.9" y="614.0" font-size="18.5" text-anchor="middle">50</text>
<text x="389.4" y="614.0" font-size="18.5" text-anchor="middle">150</text>
<text x="450.0" y="614.0" font-size="18.5" text-anchor="middle">250</text>
<path d="M518.7,438.4V589.8H670.0" fill="none" stroke="#333" stroke-width="1.2"/>
<path d="M516.5,438.4H518.7" stroke="#333" stroke-width="1.2"/>
<path d="M516.5,514.1H518.7" stroke="#333" stroke-width="1.2"/>
<path d="M516.5,589.8H518.7" stroke="#333" stroke-width="1.2"/>
<path d="M549.0,589.8V592.0" stroke="#333" stroke-width="1.2"/>
<path d="M609.5,589.8V592.0" stroke="#333" stroke-width="1.2"/>
<path d="M670.0,589.8V592.0" stroke="#333" stroke-width="1.2"/>
<path d="M519.0,590.0C520.7,590.0 526.9,590.0 529.1,590.0C531.3,590.0 530.9,587.9 532.0,585.4C533.1,582.9 534.3,578.0 535.5,574.9C536.7,571.8 537.8,569.2 539.0,566.7C540.2,564.2 541.2,561.7 542.5,559.7C543.8,557.8 545.4,556.1 546.6,555.0C547.8,553.9 548.4,554.5 549.5,553.3C550.6,552.1 551.9,549.6 553.0,548.0C554.1,546.4 555.0,544.4 556.0,543.9C557.0,543.4 557.9,545.4 558.9,545.1C559.9,544.8 560.9,543.2 561.8,542.2C562.7,541.2 563.3,539.4 564.1,539.3C564.9,539.2 565.6,540.7 566.5,541.6C567.4,542.5 568.3,544.4 569.4,544.5C570.5,544.6 571.7,542.1 572.9,542.2C574.1,542.3 575.0,544.8 576.4,545.1C577.8,545.4 579.5,543.7 581.1,543.9C582.7,544.1 584.2,546.7 585.7,546.3C587.2,545.9 588.8,541.7 590.0,541.7C591.2,541.7 591.9,546.3 593.1,546.1C594.3,545.9 596.0,540.6 597.4,540.5C598.8,540.4 600.4,544.8 601.8,545.4C603.1,546.0 604.4,544.2 605.5,544.2C606.6,544.2 607.6,545.6 608.6,545.4C609.6,545.2 610.7,542.6 611.7,543.0C612.7,543.4 613.7,546.6 614.8,547.9C615.9,549.2 617.2,550.7 618.5,551.0C619.8,551.3 621.0,549.4 622.3,549.8C623.5,550.2 624.8,552.7 626.0,553.5C627.2,554.3 628.5,554.1 629.7,554.7C630.9,555.3 632.0,556.3 633.4,557.2C634.8,558.1 636.5,559.3 637.8,560.3C639.0,561.3 639.9,561.6 640.9,563.4C641.9,565.2 643.1,568.2 644.0,570.9C644.9,573.6 645.6,576.7 646.5,579.6C647.4,582.5 648.6,586.5 649.6,588.2C650.6,590.0 649.4,590.1 652.7,590.1C656.0,590.1 666.6,590.1 669.4,590.1" fill="none" stroke="#8ea4d4" stroke-width="3.05" stroke-linejoin="round" stroke-linecap="butt"/>
<path d="M519.0,590.0C520.4,590.0 525.5,590.0 527.3,590.0C529.1,590.0 528.8,586.2 529.7,583.1C530.6,580.0 531.6,574.7 532.6,571.4C533.6,568.1 534.6,565.0 535.5,563.2C536.4,561.5 537.0,561.4 537.9,560.9C538.8,560.4 539.9,561.1 540.8,560.3C541.7,559.5 542.3,557.9 543.1,556.2C543.9,554.6 544.6,551.8 545.4,550.4C546.2,549.0 547.1,547.8 548.1,548.0C549.1,548.2 550.3,552.0 551.3,551.5C552.3,551.0 553.2,545.8 554.2,545.1C555.2,544.4 555.9,547.3 557.1,547.4C558.3,547.5 559.8,546.1 561.2,545.7C562.6,545.3 564.3,545.6 565.3,545.1C566.3,544.6 566.4,544.1 567.1,542.8C567.8,541.5 568.5,538.0 569.4,537.5C570.3,537.0 571.4,539.4 572.3,539.9C573.2,540.4 573.7,539.6 574.6,540.4C575.5,541.2 576.5,544.1 577.6,544.5C578.7,544.9 579.9,543.5 581.1,542.8C582.3,542.1 583.3,540.9 584.6,540.4C585.9,539.9 587.4,540.2 588.7,539.9C590.0,539.6 591.2,537.9 592.5,538.6C593.8,539.3 594.9,544.0 596.2,544.2C597.5,544.4 599.4,540.1 600.5,539.9C601.6,539.7 602.0,541.0 603.0,543.0C604.0,545.0 605.4,550.6 606.8,551.6C608.1,552.6 609.5,548.7 611.1,549.2C612.7,549.7 614.7,554.5 616.1,554.7C617.5,554.9 618.6,549.7 619.8,550.4C621.0,551.1 622.4,558.3 623.5,559.1C624.6,559.9 625.5,555.1 626.6,555.4C627.7,555.7 629.0,559.9 630.3,560.9C631.5,561.9 632.9,561.2 634.1,561.6C635.4,562.0 636.7,562.6 637.8,563.4C638.9,564.2 639.9,564.8 640.9,566.5C641.9,568.2 643.0,570.6 644.0,573.4C645.0,576.2 646.1,580.9 647.1,583.3C648.1,585.6 649.2,586.3 650.2,587.5C651.2,588.7 650.1,590.4 653.3,590.4C656.5,590.4 666.7,590.4 669.4,590.4" fill="none" stroke="#f5ac99" stroke-width="3.05" stroke-linejoin="round" stroke-linecap="butt"/>
<text x="511.7" y="445.3" font-size="18.5" text-anchor="end">0.01</text>
<text x="511.7" y="521.0" font-size="18.5" text-anchor="end">0.005</text>
<text x="511.7" y="596.7" font-size="18.5" text-anchor="end">0</text>
<text x="549.0" y="613.8" font-size="18.5" text-anchor="middle">50</text>
<text x="609.5" y="613.8" font-size="18.5" text-anchor="middle">150</text>
<text x="670.0" y="613.8" font-size="18.5" text-anchor="middle">250</text>
<text transform="translate(16,90.0) rotate(-90)" font-size="21" text-anchor="middle">PSD</text>
<text transform="translate(16,301.4) rotate(-90)" font-size="21" text-anchor="middle">PSD</text>
<text transform="translate(16,512.6) rotate(-90)" font-size="21" text-anchor="middle">PSD</text>
<text x="161.0" y="646" font-size="21" text-anchor="middle">Frequency (Hz)</text>
<text x="380.6" y="646" font-size="21" text-anchor="middle">Frequency (Hz)</text>
<text x="601.5" y="646" font-size="21" text-anchor="middle">Frequency (Hz)</text>
<rect x="87.6" y="15.5" width="14.2" height="13" fill="#8ea4d4" stroke="#4a4f5c" stroke-width="0.9"/>
<rect x="87.6" y="43.6" width="14.2" height="13.3" fill="#f5ac99" stroke="#7a6a66" stroke-width="0.9"/>
<text x="108.5" y="29.5" font-size="21">FDI<tspan font-size="13" dy="2">Vol</tspan></text>
<text x="108.5" y="57.8" font-size="21">FDI<tspan font-size="13" dy="2.5">pMA</tspan></text>
<text x="654.5" y="8.8" font-size="11" text-anchor="middle">BL</text>
<g stroke="#9aa0a8" stroke-width="1"><path d="M644.5,14V68.2"/><path d="M663.3,14V68.2"/><path d="M626.8,31.5H681"/><path d="M626.8,49.6H681"/></g>
<text x="635.9" y="26.8" font-size="9.5" text-anchor="middle">1</text>
<text x="654.2" y="26.8" font-size="9.5" text-anchor="middle">2</text>
<text x="673.0" y="26.8" font-size="9.5" text-anchor="middle">3</text>
<text x="635.9" y="44.5" font-size="9.5" text-anchor="middle">4</text>
<text x="654.2" y="44.5" font-size="9.5" text-anchor="middle">5</text>
<text x="673.0" y="44.5" font-size="9.5" text-anchor="middle">6</text>
<text x="635.9" y="62.2" font-size="9.5" text-anchor="middle">7</text>
<text x="654.2" y="62.2" font-size="9.5" text-anchor="middle">8</text>
<text x="673.0" y="62.2" font-size="9.5" text-anchor="middle">9</text>
</svg></body></html>
